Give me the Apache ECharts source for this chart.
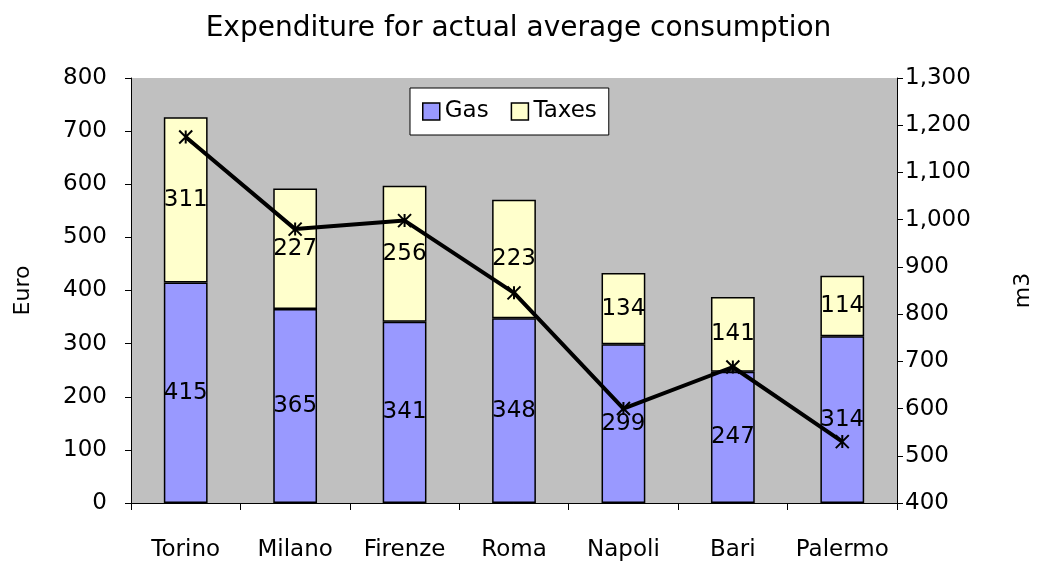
<!DOCTYPE html>
<html>
<head>
<meta charset="utf-8">
<script src="https://cdn.jsdelivr.net/npm/echarts@6/dist/echarts.min.js"></script>
<style>
html, body { margin: 0; padding: 0; background: #fff; }
#main { width: 1037px; height: 567px; }
</style>
</head>
<body>
<div id="main"></div>
<script>
const cities = ['Torino', 'Milano', 'Firenze', 'Roma', 'Napoli', 'Bari', 'Palermo'];
const gas = [415, 365, 341, 348, 299, 247, 314];
const taxes = [311, 227, 256, 223, 134, 141, 114];
const m3 = [1175, 980, 998, 845, 600, 688, 530];

const chart = echarts.init(document.getElementById('main'));
const font = 'DejaVu Sans';
const star = 'path://M0,0L10,10M10,0L0,10M5,0L5,10';

const option = {
    textStyle: { fontFamily: font },
    animation: false,
    title: {
        text: 'Expenditure for actual average consumption',
        left: 'center',
        top: 10,
        textStyle: { fontFamily: font, fontSize: 28, fontWeight: 'normal', color: '#000' }
    },
    legend: {
        top: 88,
        left: 410,
        width: 227,
        itemGap: 22,
        padding: [12, 12],
        backgroundColor: '#fff',
        borderColor: '#000',
        borderWidth: 1,
        itemWidth: 17,
        itemHeight: 17,
        data: [
            { name: 'Gas', icon: 'rect', itemStyle: { borderColor: '#000', borderWidth: 1.5 } },
            { name: 'Taxes', icon: 'rect', itemStyle: { borderColor: '#000', borderWidth: 1.5 } }
        ],
        textStyle: { fontFamily: font, fontSize: 23, color: '#000' }
    },
    grid: {
        left: 131,
        right: 140,
        top: 78,
        bottom: 64,
        show: true,
        backgroundColor: '#c0c0c0',
        borderWidth: 0,
        containLabel: false,
        outerBoundsMode: 'none'
    },
    xAxis: {
        type: 'category',
        data: cities,
        axisLine: { lineStyle: { color: '#000', width: 1 } },
        axisTick: { show: true, length: 7, lineStyle: { color: '#000' } },
        axisLabel: { color: '#000', fontSize: 23, margin: 36, interval: 0, hideOverlap: false }
    },
    yAxis: [
        {
            type: 'value',
            name: 'Euro',
            nameLocation: 'middle',
            nameGap: 97,
            nameRotate: 90,
            nameTextStyle: { fontSize: 22, color: '#000' },
            min: 0,
            max: 800,
            interval: 100,
            axisLine: { show: true, lineStyle: { color: '#000' } },
            axisTick: { show: true, length: 6, lineStyle: { color: '#000' } },
            axisLabel: { color: '#000', fontSize: 23, margin: 24 },
            splitLine: { show: false }
        },
        {
            type: 'value',
            name: 'm3',
            nameLocation: 'middle',
            nameGap: 115,
            nameRotate: 90,
            nameTextStyle: { fontSize: 22, color: '#000' },
            min: 400,
            max: 1300,
            interval: 100,
            axisLine: { show: true, lineStyle: { color: '#000' } },
            axisTick: { show: true, length: 6, lineStyle: { color: '#000' } },
            axisLabel: {
                color: '#000',
                fontSize: 23,
                margin: 8,
                formatter: function (v) { return v.toLocaleString('en-US'); }
            },
            splitLine: { show: false }
        }
    ],
    series: [
        {
            name: 'Gas',
            type: 'bar',
            stack: 'euro',
            barWidth: '40%',
            data: gas,
            itemStyle: { color: '#9999ff', borderColor: '#000', borderWidth: 1.5 },
            label: { show: true, position: 'inside', color: '#000', fontSize: 23 }
        },
        {
            name: 'Taxes',
            type: 'bar',
            stack: 'euro',
            barWidth: '40%',
            data: taxes,
            itemStyle: { color: '#ffffcc', borderColor: '#000', borderWidth: 1.5 },
            label: { show: true, position: 'inside', color: '#000', fontSize: 23 }
        },
        {
            name: 'm3',
            type: 'line',
            yAxisIndex: 1,
            data: m3,
            symbol: star,
            symbolSize: 13,
            lineStyle: { color: '#000', width: 4 },
            itemStyle: { color: 'none', borderColor: '#000', borderWidth: 2 },
            z: 5
        }
    ]
};
chart.setOption(option);
</script>
</body>
</html>
